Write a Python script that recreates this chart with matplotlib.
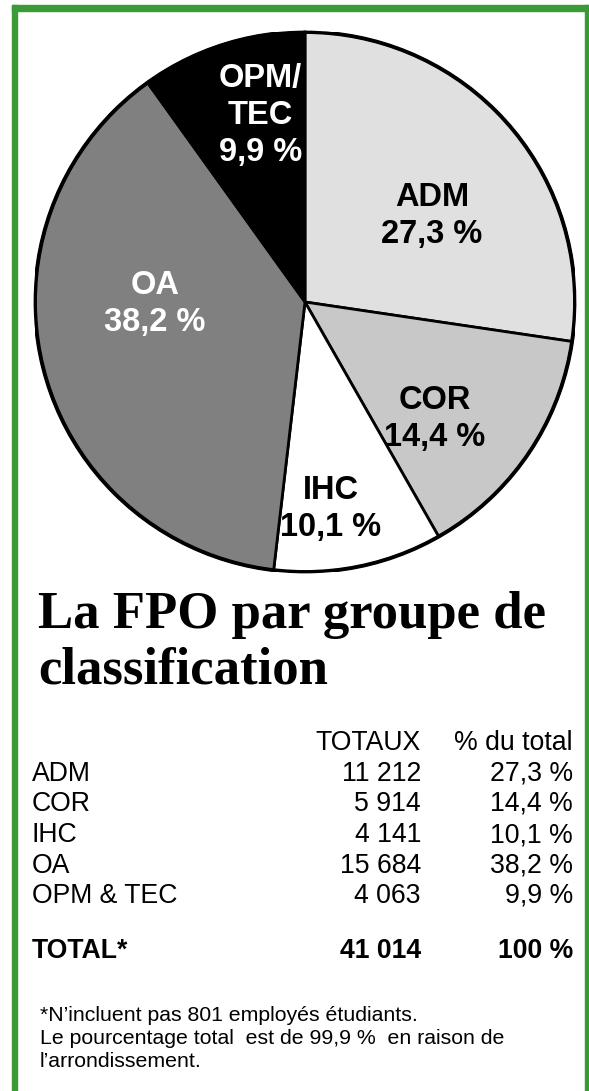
import matplotlib
matplotlib.use("Agg")
import matplotlib.pyplot as plt
from matplotlib.patches import Rectangle, Circle

# ---- data ----
groups = ["ADM", "COR", "IHC", "OA", "OPM & TEC"]
pie_labels = ["ADM", "COR", "IHC", "OA", "OPM/\nTEC"]
totals = [11212, 5914, 4141, 15684, 4063]
percents = [27.3, 14.4, 10.1, 38.2, 9.9]
total_all = 41014
total_pct = "100 %"
title = "La FPO par groupe de\nclassification"
col_headers = ["TOTAUX", "% du total"]
footnote = ("*N\u2019incluent pas 801 employés étudiants.\n"
            "Le pourcentage total  est de 99,9 %  en raison de\n"
            "l\u2019arrondissement.")

# ---- style ----
colors = ["#e0e0e0", "#c8c8c8", "#ffffff", "#808080", "#000000"]
text_colors = ["black", "black", "black", "white", "white"]
label_pos = [(0.47, 0.318), (0.48, -0.435), (0.095, -0.768), (-0.555, -0.007), (-0.165, 0.69)]
green = "#3a9a35"

W, H = 589, 1091
fig = plt.figure(figsize=(W / 100, H / 100), dpi=100)
fig.patch.set_facecolor("white")

def fx(x):
    return x / W

def fy(y):
    return 1 - y / H

# border (top, left, right)
fig.patches.append(Rectangle((fx(12), fy(11)), fx(589) - fx(12), 6 / H, transform=fig.transFigure,
                             color=green, zorder=0))
fig.patches.append(Rectangle((fx(12), 0), 5 / W, fy(5), transform=fig.transFigure,
                             color=green, zorder=0))
fig.patches.append(Rectangle((fx(585), 0), 3 / W, fy(5), transform=fig.transFigure,
                             color=green, zorder=0))

# pie
cx, cy, r = 305, 302, 270
ax = fig.add_axes([fx(cx - r), fy(cy + r), 2 * r / W, 2 * r / H])
wedges, _ = ax.pie(totals, colors=colors, startangle=90, counterclock=False,
                   wedgeprops=dict(edgecolor="black", linewidth=2.0))
ax.add_patch(Circle((0, 0), 1.0, fill=False, edgecolor="black", linewidth=2.8, zorder=5))
ax.set_xlim(-1.0, 1.0)
ax.set_ylim(-1.0, 1.0)
ax.set_aspect("equal")
ax.axis("off")
for lab, p, (lx, ly), tc in zip(pie_labels, percents, label_pos, text_colors):
    s = f"{lab}\n{p:.1f} %".replace(".", ",")
    ax.text(lx, ly, s, ha="center", va="center", color=tc, fontsize=23.5,
            fontweight="bold", family="Liberation Sans", linespacing=1.25, zorder=6)

# title
fig.text(fx(38), fy(683), title, ha="left", va="baseline", fontsize=38,
         fontweight="bold", family="Liberation Serif", linespacing=1.2)

# table
def fmt_int(n):
    return f"{n:,}".replace(",", " ")

tfont = dict(family="Liberation Sans", fontsize=19.2)
x_name, x_tot, x_pct = 32, 421, 573
fig.text(fx(x_tot), fy(743), col_headers[0], ha="right", va="center", **tfont)
fig.text(fx(x_pct), fy(743), col_headers[1], ha="right", va="center", **tfont)
row_y = [774, 804, 835, 866, 896]
for g, t, p, y in zip(groups, totals, percents, row_y):
    fig.text(fx(x_name), fy(y), g, ha="left", va="center", **tfont)
    fig.text(fx(x_tot), fy(y), fmt_int(t), ha="right", va="center", **tfont)
    fig.text(fx(x_pct), fy(y), f"{p:.1f} %".replace(".", ","), ha="right", va="center", **tfont)
fig.text(fx(x_name), fy(951), "TOTAL*", ha="left", va="center", fontweight="bold", **tfont)
fig.text(fx(x_tot), fy(951), fmt_int(total_all), ha="right", va="center", fontweight="bold", **tfont)
fig.text(fx(x_pct), fy(951), total_pct, ha="right", va="center", fontweight="bold", **tfont)

# footnote (va='baseline' anchors the last line)
fig.text(fx(40), fy(1067), footnote, ha="left", va="baseline", family="Liberation Sans",
         fontsize=15.3, linespacing=1.26)

fig.savefig("out.png", dpi=100, facecolor="white")
